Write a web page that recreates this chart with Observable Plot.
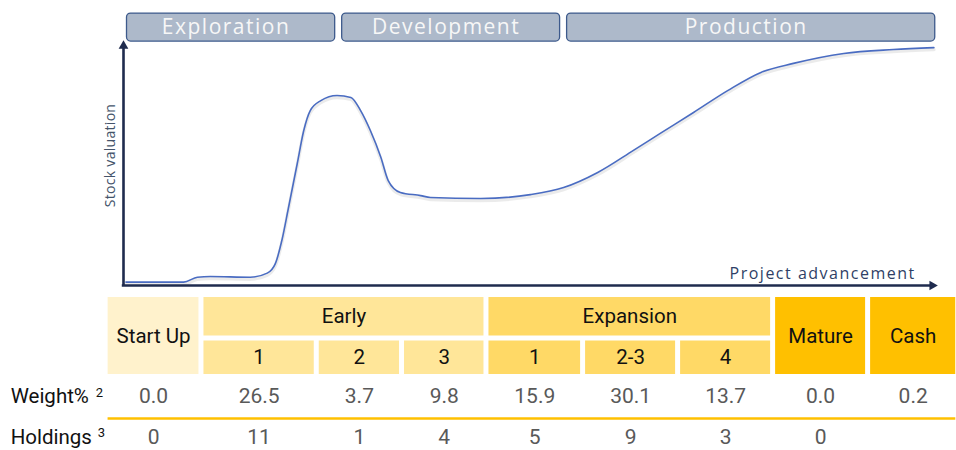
<!DOCTYPE html>
<html><head><meta charset="utf-8">
<script src="https://cdn.jsdelivr.net/npm/d3@7"></script>
<script src="https://cdn.jsdelivr.net/npm/@observablehq/plot@0.6"></script>
<style>body{margin:0;background:#fff}#chart svg{display:block}</style>
</head><body><div id="chart"></div>
<script>
// ---------- data ----------
const phases = ["Exploration", "Development", "Production"];
const phaseStart = [0, 26.5, 54.2];      // project advancement (0-100)
const phaseEnd = [26.5, 54.2, 100.4];

// stock valuation curve (advancement, valuation 0-100)
const curveAdvance = [0.3, 7.4, 9.1, 10.7, 15.6, 17.7, 18.7, 19.5, 20.3, 21.4, 22.2, 23.0, 24.3, 26.3, 28.0, 29.2, 30.4, 31.7, 32.6, 34.1, 36.6, 37.8, 44.0, 50.1, 54.2, 58.4, 62.8, 66.1, 70.2, 74.4, 78.5, 82.5, 88.7, 94.8, 99.8];
const curveValuation = [1.4, 1.4, 3.4, 3.7, 3.4, 5.1, 9.0, 18.5, 31.7, 50.2, 63.8, 72.0, 76.1, 78.2, 77.4, 72.0, 63.8, 52.7, 43.2, 38.3, 37.0, 36.2, 35.8, 37.4, 40.3, 46.5, 55.6, 62.6, 71.2, 80.2, 87.7, 91.4, 95.5, 97.1, 97.9];

const stageGroups = ["Early", "Expansion"];
const groupStart = [9.6, 44.7];
const groupEnd = [44.7, 80.0];

const columns = ["Start Up", "1", "2", "3", "1", "2-3", "4", "Mature", "Cash"];
const columnGroup = [null, "Early", "Early", "Early", "Expansion", "Expansion", "Expansion", null, null];
const columnStart = [-2.2, 9.6, 23.8, 34.3, 44.7, 56.6, 68.3, 80.0, 91.7];
const columnEnd = [9.6, 23.8, 34.3, 44.7, 56.6, 68.3, 80.0, 91.7, 102.8];
const weightPct = [0.0, 26.5, 3.7, 9.8, 15.9, 30.1, 13.7, 0.0, 0.2];
const holdings = [0, 11, 1, 4, 5, 9, 3, 0, null];
const rowLabels = ["Weight%", "Holdings"];
const rowNotes = ["2", "3"];

// ---------- styles ----------
const stageColor = {"Start Up": "#fff2cc", "Early": "#ffe699", "Expansion": "#ffd966", "Mature": "#ffc000", "Cash": "#ffc000"};
const navy = "#1f2b4e";
const W = 956;

// ---------- derived tables ----------
const phaseData = phases.map((name, i) => ({name, start: phaseStart[i], end: phaseEnd[i]}));
const curveData = curveAdvance.map((a, i) => ({a, v: curveValuation[i]}));
const colData = columns.map((name, i) => ({
  name, group: columnGroup[i], start: columnStart[i], end: columnEnd[i],
  mid: (columnStart[i] + columnEnd[i]) / 2,
  weight: weightPct[i], holdings: holdings[i]
}));
const singleCols = colData.filter(d => d.group === null);
const subCols = colData.filter(d => d.group !== null);
const groupData = stageGroups.map((name, i) => ({name, start: groupStart[i], end: groupEnd[i]}));
const rowLabelData = rowLabels.map((t, i) => ({t, note: rowNotes[i], row: 2.5 + i}));

// ---------- top chart ----------
const topPlot = Plot.plot({
  width: W, height: 292,
  marginLeft: 123, marginRight: 21, marginTop: 42, marginBottom: 7,
  x: {domain: [0, 100], axis: null},
  y: {domain: [0, 100], axis: null},
  marks: [
    Plot.rect(phaseData, {x1: "start", x2: "end", y1: 100.4, y2: 111.9, insetLeft: 3.5, insetRight: 3.5,
      fill: "#adb9ca", stroke: "#3d5a8c", strokeWidth: 1.3, rx: 4}),
    Plot.text(phaseData, {x: d => (d.start + d.end) / 2, y: 106.1, dx: -5, text: "name",
      fill: "#f7f7f7", fontSize: 21, fontFamily: "Open Sans"}),
    Plot.line(curveData, {x: "a", y: "v", curve: "monotone-x", stroke: "#000", strokeOpacity: 0.08, strokeWidth: 3.5, dy: 2}),
    Plot.line(curveData, {x: "a", y: "v", curve: "monotone-x", stroke: "#4a6cc2", strokeWidth: 1.6}),
    Plot.ruleX([0], {y1: 0, y2: 98.6, stroke: navy, strokeWidth: 2.6}),
    Plot.ruleY([0], {x1: -0.15, x2: 99.6, stroke: navy, strokeWidth: 2.6}),
    Plot.dot([0], {x: 0, y: 98.6, symbol: "triangle", r: 3.6, fill: navy, stroke: "none"}),
    Plot.dot([0], {x: 99.6, y: 0, symbol: "triangle", r: 3.6, rotate: 90, fill: navy, stroke: "none"}),
    Plot.text(["Stock valuation"], {x: 0, y: 53.5, dx: -13, rotate: -90, fill: "#44546a", fontSize: 14, fontFamily: "Open Sans"}),
    Plot.text(["Project advancement"], {x: 86.1, y: 4.9, fill: "#2f3f66", fontSize: 16, fontFamily: "Open Sans"})
  ]
});

// ---------- bottom table ----------
const tableFont = "Roboto";
const bottomPlot = Plot.plot({
  width: W, height: 158,
  marginLeft: 123, marginRight: 21, marginTop: 0, marginBottom: 0,
  x: {domain: [0, 100], axis: null},
  y: {domain: [0, 4], range: [5, 159], axis: null},
  color: {type: "identity"},
  marks: [
    Plot.rect(singleCols, {x1: "start", x2: "end", y1: 0, y2: 2, insetLeft: 2.5, insetRight: 2.5, fill: d => stageColor[d.name]}),
    Plot.rect(groupData, {x1: "start", x2: "end", y1: 0, y2: 1, insetLeft: 2.5, insetRight: 2.5, fill: d => stageColor[d.name]}),
    Plot.rect(subCols, {x1: "start", x2: "end", y1: 1, y2: 2, insetLeft: 2.5, insetRight: 2.5, insetTop: 5, fill: d => stageColor[d.group]}),
    Plot.text(singleCols, {x: "mid", y: 1, text: "name", fill: "#111", fontSize: 20.5, fontFamily: tableFont}),
    Plot.text(groupData, {x: d => (d.start + d.end) / 2, y: 0.5, text: "name", fill: "#111", fontSize: 20.5, fontFamily: tableFont}),
    Plot.text(subCols, {x: "mid", y: 1.5, dy: 2, text: "name", fill: "#111", fontSize: 20.5, fontFamily: tableFont}),
    Plot.text(colData, {x: "mid", y: 2.5, dy: 3, text: d => d.weight.toFixed(1), fill: "#595959", fontSize: 21, fontFamily: tableFont}),
    Plot.ruleY([3.14], {x1: -1.9, x2: 102.5, stroke: "#ffc000", strokeWidth: 2.5}),
    Plot.text(colData.filter(d => d.holdings !== null), {x: "mid", y: 3.5, dy: 5, text: d => String(d.holdings), fill: "#595959", fontSize: 21, fontFamily: tableFont}),
    // row labels with footnote markers
    Plot.text(rowLabelData.slice(0, 1), {x: -13.9, y: "row", dy: 3, text: "t", textAnchor: "start", fill: "#111", fontSize: 20.5, fontFamily: tableFont}),
    Plot.text(rowLabelData.slice(1), {x: -13.9, y: "row", dy: 5, text: "t", textAnchor: "start", fill: "#111", fontSize: 20.5, fontFamily: tableFont}),
    Plot.text(rowLabelData.slice(0, 1), {x: -13.9, y: "row", dx: 85, dy: -1, text: "note", textAnchor: "start", fill: "#111", fontSize: 13, fontFamily: tableFont}),
    Plot.text(rowLabelData.slice(1), {x: -13.9, y: "row", dx: 87, dy: 1, text: "note", textAnchor: "start", fill: "#111", fontSize: 13, fontFamily: tableFont})
  ]
});

const chart = document.getElementById("chart");
chart.appendChild(topPlot);
chart.appendChild(bottomPlot);

// letter spacing for the diagram labels
d3.select(topPlot).selectAll("text").each(function() {
  const t = this.textContent;
  if (phases.includes(t)) this.setAttribute("letter-spacing", "1.5");
  if (t === "Project advancement") this.setAttribute("letter-spacing", "1.5");
  if (t === "Stock valuation") this.setAttribute("letter-spacing", "0.3");
});
</script></body></html>
